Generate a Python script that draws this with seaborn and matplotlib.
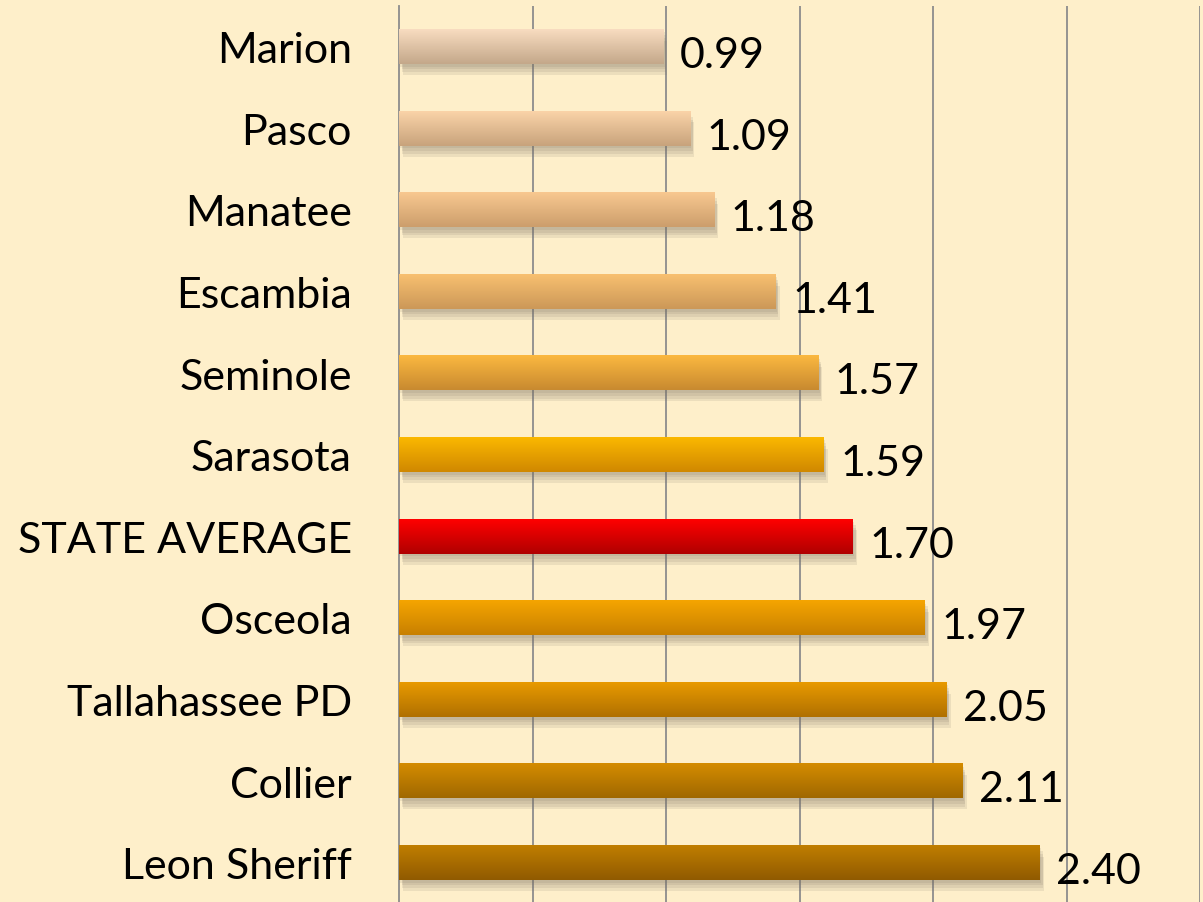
import numpy as np
import pandas as pd
import seaborn as sns
import matplotlib.pyplot as plt
import matplotlib.patheffects as pe
from matplotlib.colors import to_rgb

# values
agencies = ['Marion', 'Pasco', 'Manatee', 'Escambia', 'Seminole', 'Sarasota',
            'STATE AVERAGE', 'Osceola', 'Tallahassee PD', 'Collier', 'Leon Sheriff']
rates = [0.99, 1.09, 1.18, 1.41, 1.57, 1.59, 1.70, 1.97, 2.05, 2.11, 2.40]

# gradient colours (top, bottom) for each bar
top_colors = ['#F8DCC0', '#FAD3A8', '#F8C890', '#F8C070', '#FBB840', '#FBB800',
              '#FF0000', '#F5A500', '#E89A00', '#D48C00', '#C07E00']
bottom_colors = ['#C4A88A', '#C8A37C', '#CC9E6C', '#CC9858', '#C88A30', '#D08800',
                 '#B00000', '#C88000', '#B07000', '#A06800', '#905A00']

bg = '#FEEFCA'
df = pd.DataFrame({'agency': agencies, 'rate': rates})

sns.set_style('white')
plt.rcParams['font.family'] = ['Lato', 'DejaVu Sans']

fig = plt.figure(figsize=(12.03, 9.03), dpi=100, facecolor=bg)
ax = fig.add_axes([399 / 1203, 0.99225 - 897.6 / 903, 801 / 1203, 897.6 / 903])
ax.set_facecolor(bg)

sns.barplot(data=df, x='rate', y='agency', hue='agency', palette=bottom_colors,
            legend=False, width=0.42, orient='h', ax=ax, zorder=2, linewidth=0)

# soft shadow + vertical gradient fill on each bar
shadow = [pe.SimplePatchShadow(offset=(dx, dy), shadow_rgbFace='#7a7060', alpha=0.13)
          for dx, dy in [(3, -8), (2, -6), (2, -4), (1, -2)]]
for i, patch in enumerate(ax.patches):
    patch.set_path_effects(shadow + [pe.Normal()])
    x0, y0 = patch.get_x(), patch.get_y()
    w, h = patch.get_width(), patch.get_height()
    t = np.linspace(0, 1, 64)[:, None]
    c0, c1 = np.array(to_rgb(top_colors[i])), np.array(to_rgb(bottom_colors[i]))
    grad = (c0 * (1 - t) + c1 * t)[:, None, :]
    ax.imshow(grad, extent=(x0, x0 + w, y0 + h, y0), aspect='auto',
              interpolation='bilinear', zorder=3)

for i, v in enumerate(rates):
    ax.text(v + 0.062, i + 0.1, f'{v:.2f}', va='center', ha='left',
            fontsize=31, color='black', zorder=4)

ax.set_xlim(0, 3.0)
ax.set_ylim(len(agencies) - 0.5, -0.5)

# grid
ax.set_xticks(np.arange(0.5, 3.01, 0.5))
ax.xaxis.grid(True, color='#8c8c8c', linewidth=1.3)
ax.set_axisbelow(True)
ax.tick_params(axis='x', length=0, labelbottom=False)

# category labels on minor ticks, tick marks between categories
ax.set_yticks(np.arange(-0.5, len(agencies), 1.0))
ax.set_yticklabels([])
ax.set_yticks(np.arange(len(agencies)), minor=True)
ax.set_yticklabels(agencies, minor=True, fontsize=31, color='black')
ax.tick_params(axis='y', which='major', length=15, width=1.2, color='#8c8c8c')
ax.tick_params(axis='y', which='minor', length=0, pad=34)
ax.set_xlabel('')
ax.set_ylabel('')

for s in ['top', 'right', 'bottom']:
    ax.spines[s].set_visible(False)
ax.spines['left'].set_color('#8c8c8c')
ax.spines['left'].set_linewidth(1.3)

fig.savefig('out.png', dpi=100, facecolor=bg)
